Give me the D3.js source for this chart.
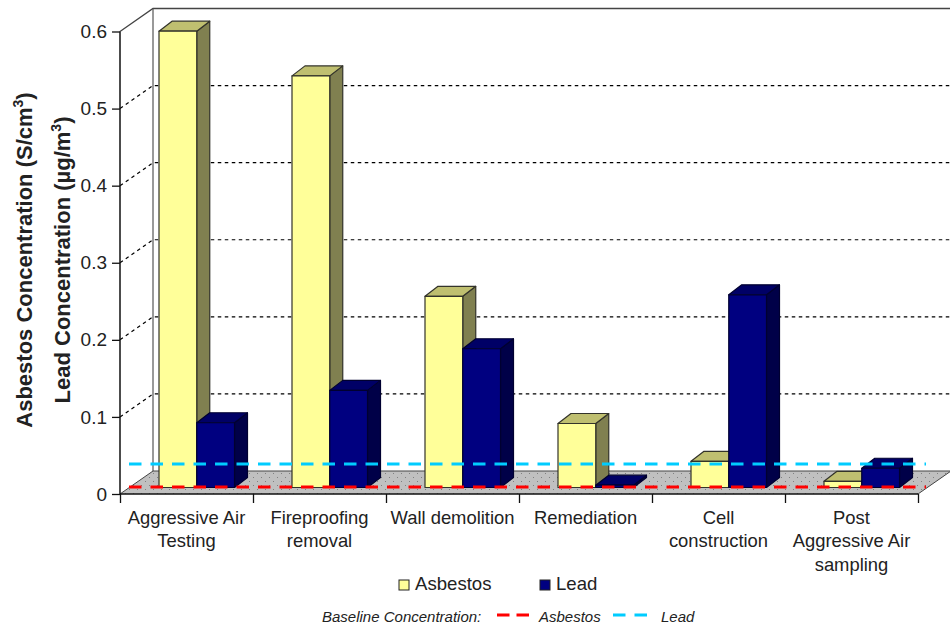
<!DOCTYPE html>
<html><head><meta charset="utf-8">
<script src="https://cdn.jsdelivr.net/npm/d3@7/dist/d3.min.js"></script>
<style>html,body{margin:0;padding:0;background:#fff}svg{display:block}text{font-family:"Liberation Sans",Arial,sans-serif;fill:#222}</style>
</head><body><div id="c"></div>
<script>
const categories=[["Aggressive Air","Testing"],["Fireproofing","removal"],["Wall demolition"],["Remediation"],["Cell","construction"],["Post","Aggressive Air","sampling"]];
const asbestos=[0.592,0.534,0.248,0.083,0.034,0.008];
const lead=[0.084,0.126,0.180,0.003,0.250,0.025];
const baselineAsbestos=0.009, baselineLead=0.039;
const yTicks=[0,0.1,0.2,0.3,0.4,0.5,0.6];
const seriesNames=["Asbestos","Lead"];
const palette={Asbestos:{f:"#FFFF99",s:"#808050",t:"#BFBF70",b:"#33332a"},Lead:{f:"#000080",s:"#000048",t:"#000066",b:"#000030"}};

const W=950,H=626,m={l:120,r:918,t:31.5,b:494},dx=33,dy=-23,bx=13,by=-10;
const svg=d3.select("#c").append("svg").attr("width",W).attr("height",H);
const y=d3.scaleLinear().domain([0,0.6]).range([m.b,m.t]);
const x=d3.scaleBand().domain(d3.range(categories.length)).range([m.l,m.r]);
const inner=d3.scaleBand().domain(seriesNames).range([39,114.5]);

// floor
const defs=svg.append("defs");
const pat=defs.append("pattern").attr("id","dots").attr("width",8).attr("height",8).attr("patternUnits","userSpaceOnUse");
pat.append("rect").attr("width",8).attr("height",8).attr("fill","#C0C0C0");
pat.append("rect").attr("x",1).attr("y",1).attr("width",1).attr("height",1).attr("fill","#808080");
pat.append("rect").attr("x",5).attr("y",5).attr("width",1).attr("height",1).attr("fill","#808080");
const line=d3.line();
svg.append("path").attr("d",line([[m.l,m.b],[m.l+dx,m.b+dy],[m.r+dx,m.b+dy],[m.r,m.b]])+"Z").attr("fill","url(#dots)");

// gridlines: side wall and back wall
svg.append("g").selectAll("path").data(yTicks.filter(t=>t>0&&t<0.6)).join("path")
 .attr("d",t=>line([[m.l,y(t)],[m.l+dx,y(t)+dy],[m.r+dx,y(t)+dy]]))
 .attr("fill","none").attr("stroke","#000").attr("stroke-width",1.2).attr("stroke-dasharray","3.5,3.5");
// walls
svg.append("path").attr("d",line([[m.l,y(0.6)],[m.l+dx,y(0.6)+dy],[W,y(0.6)+dy]])).attr("fill","none").attr("stroke","#444").attr("stroke-width",1.3);
svg.append("path").attr("d",line([[m.l+dx,y(0.6)+dy],[m.l+dx,m.b+dy]])).attr("fill","none").attr("stroke","#555").attr("stroke-width",1.2);
svg.append("path").attr("d",line([[m.l,m.b],[m.l+dx,m.b+dy],[m.r+dx,m.b+dy],[m.r,m.b]])).attr("fill","none").attr("stroke","#444").attr("stroke-width",1);

// bars
const barBase=-6.5;
function drawBar(g,i,name,v){
  const c=palette[name];
  const x0=x(i)+inner(name),x1=x0+inner.bandwidth();
  const y0=y(0)+barBase,y1=y(v)+barBase;
  const st=s=>s.attr("stroke",c.b).attr("stroke-width",1.2).attr("stroke-linejoin","round");
  st(g.append("path").attr("d",line([[x1,y0],[x1+bx,y0+by],[x1+bx,y1+by],[x1,y1]])+"Z").attr("fill",c.s));
  st(g.append("path").attr("d",line([[x0,y1],[x0+bx,y1+by],[x1+bx,y1+by],[x1,y1]])+"Z").attr("fill",c.t));
  st(g.append("rect").attr("x",x0).attr("y",y1).attr("width",x1-x0).attr("height",y0-y1).attr("fill",c.f));
}
const bars=svg.append("g");
categories.forEach((_,i)=>{drawBar(bars,i,"Asbestos",asbestos[i]);drawBar(bars,i,"Lead",lead[i]);});

// baseline lines
const hl=(v,col)=>svg.append("line").attr("x1",m.l+9).attr("x2",m.r+8).attr("y1",y(v)).attr("y2",y(v))
  .attr("stroke",col).attr("stroke-width",3).attr("stroke-dasharray","12.5,9");
hl(baselineLead,"#00CCFF");hl(baselineAsbestos,"#FF0000");

// axes
const ya=svg.append("g").attr("transform",`translate(${m.l},0)`).call(d3.axisLeft(y).tickValues(yTicks).tickSize(8).tickPadding(5).tickFormat(d=>d===0?"0":d3.format(".1f")(d)));
ya.selectAll("text").style("font-size","19px");
const xl=d3.scaleLinear().domain([0,categories.length]).range([m.l,m.r]);
const xa=svg.append("g").attr("transform",`translate(0,${m.b})`).call(d3.axisBottom(xl).tickValues(d3.range(categories.length+1)).tickSize(9).tickFormat(""));
[ya,xa].forEach(a=>{a.selectAll("path").attr("stroke","#111").attr("stroke-width",1.5);a.selectAll("line").attr("stroke","#111").attr("stroke-width",1.3);});
ya.select("path").attr("d",`M0,${y(0.6)}V${m.b}`);
xa.select("path").attr("d",`M${m.l},0H${m.r}`);

// category labels
categories.forEach((ls,i)=>{
  const t=svg.append("text").attr("text-anchor","middle").attr("font-size",18.4);
  ls.forEach((s,j)=>t.append("tspan").attr("x",x(i)+x.bandwidth()/2).attr("y",524+j*23.3).text(s));
});

// y titles
function yTitle(px,cy,main){
  const t=svg.append("text").attr("transform",`translate(${px},${cy}) rotate(-90)`).attr("text-anchor","middle").attr("font-size",22).attr("font-weight","bold");
  t.append("tspan").text(main);
  t.append("tspan").attr("dy",-9).attr("font-size",14).text("3");
  t.append("tspan").attr("dy",9).text(")");
}
yTitle(32,260,"Asbestos Concentration (S/cm");
yTitle(70,260,"Lead Concentration (\u00B5g/m");

// legend
const lg=svg.append("g");
[[399,415],[540,556]].forEach(([sx,tx],i)=>{
  const n=seriesNames[i];
  lg.append("rect").attr("x",sx).attr("y",580).attr("width",10).attr("height",10).attr("fill",palette[n].f).attr("stroke","#222").attr("stroke-width",1);
  lg.append("text").attr("x",tx).attr("y",590).attr("font-size",18.6).text(n);
});
const ft=svg.append("g").attr("font-size",15).attr("font-style","italic");
ft.append("text").attr("x",322).attr("y",622).text("Baseline Concentration:");
ft.append("text").attr("x",539).attr("y",622).text(seriesNames[0]);
ft.append("text").attr("x",661).attr("y",622).text(seriesNames[1]);
svg.append("line").attr("x1",497).attr("x2",529).attr("y1",615).attr("y2",615).attr("stroke","#FF0000").attr("stroke-width",3).attr("stroke-dasharray","12.5,7");
svg.append("line").attr("x1",613).attr("x2",647).attr("y1",615).attr("y2",615).attr("stroke","#00CCFF").attr("stroke-width",3).attr("stroke-dasharray","12.5,9");
</script></body></html>
